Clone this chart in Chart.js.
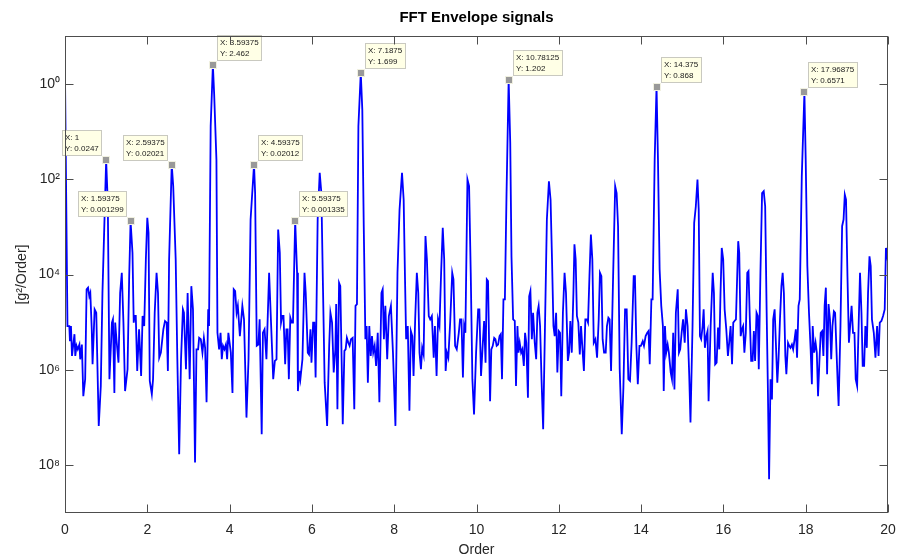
<!DOCTYPE html>
<html>
<head>
<meta charset="utf-8">
<title>FFT Envelope signals</title>
<script src="https://cdn.jsdelivr.net/npm/chart.js@4/dist/chart.umd.min.js"></script>
<style>
  html, body { margin: 0; padding: 0; background: #fff; }
  #chart { display: block; }
</style>
</head>
<body>
<canvas id="chart" width="899" height="560"></canvas>
<script>
/* ===== DATA ===== */
const ORDER = [
  0, 0.06, 0.105, 0.12, 0.145, 0.17, 0.23, 0.25, 0.28, 0.31, 0.35, 0.37, 0.41, 0.445, 0.49,
  0.525, 0.56, 0.59, 0.615, 0.65, 0.67, 0.72, 0.76, 0.82, 0.87, 0.91, 1.0, 1.04, 1.08, 1.14,
  1.165, 1.2, 1.22, 1.25, 1.3, 1.34, 1.38, 1.42, 1.46, 1.52, 1.56, 1.59375, 1.64, 1.67, 1.69,
  1.72, 1.755, 1.8, 1.85, 1.885, 1.925, 1.965, 2.0, 2.03, 2.06, 2.11, 2.14, 2.18, 2.225, 2.26,
  2.29, 2.33, 2.39, 2.43, 2.47, 2.5, 2.53, 2.59375, 2.63, 2.69, 2.73, 2.775, 2.82, 2.865, 2.89,
  2.94, 2.98, 3.03, 3.07, 3.11, 3.16, 3.195, 3.235, 3.26, 3.3, 3.34, 3.375, 3.405, 3.44, 3.48,
  3.5, 3.54, 3.59375, 3.625, 3.68, 3.705, 3.745, 3.78, 3.81, 3.84, 3.875, 3.91, 3.94, 3.97, 4.03,
  4.07, 4.1, 4.135, 4.17, 4.2, 4.25, 4.31, 4.35, 4.41, 4.46, 4.51, 4.59375, 4.62, 4.66, 4.7,
  4.73, 4.78, 4.81, 4.85, 4.895, 4.96, 5.06, 5.1, 5.14, 5.18, 5.22, 5.25, 5.28, 5.31, 5.35,
  5.38, 5.41, 5.44, 5.475, 5.51, 5.54, 5.59375, 5.64, 5.66, 5.695, 5.72, 5.77, 5.82, 5.85, 5.9,
  5.93, 5.965, 5.99, 6.03, 6.06, 6.09, 6.14, 6.19, 6.23, 6.27, 6.31, 6.37, 6.42, 6.45, 6.49,
  6.53, 6.57, 6.59, 6.62, 6.66, 6.69, 6.715, 6.75, 6.79, 6.82, 6.85, 6.885, 6.915, 6.95, 6.99,
  7.03, 7.06, 7.095, 7.13, 7.1875, 7.225, 7.26, 7.3, 7.33, 7.36, 7.395, 7.43, 7.46, 7.49, 7.525,
  7.56, 7.6, 7.64, 7.69, 7.72, 7.75, 7.785, 7.83, 7.87, 7.92, 7.97, 8.03, 8.08, 8.13, 8.19,
  8.23, 8.26, 8.29, 8.33, 8.37, 8.405, 8.44, 8.47, 8.51, 8.55, 8.585, 8.615, 8.65, 8.68, 8.715,
  8.76, 8.795, 8.84, 8.875, 8.915, 8.96, 8.99, 9.03, 9.065, 9.1, 9.14, 9.18, 9.215, 9.25, 9.28,
  9.315, 9.36, 9.41, 9.44, 9.48, 9.52, 9.57, 9.6, 9.635, 9.67, 9.7, 9.73, 9.78, 9.82, 9.86,
  9.9, 9.94, 9.99, 10.04, 10.07, 10.11, 10.15, 10.185, 10.22, 10.25, 10.28, 10.33, 10.36, 10.395, 10.43,
  10.46, 10.49, 10.525, 10.56, 10.59, 10.62, 10.655, 10.69, 10.73, 10.78125, 10.82, 10.85, 10.89, 10.93, 10.96,
  10.995, 11.02, 11.05, 11.085, 11.115, 11.15, 11.18, 11.21, 11.25, 11.28, 11.31, 11.345, 11.375, 11.415, 11.45,
  11.48, 11.51, 11.545, 11.58, 11.62, 11.66, 11.71, 11.76, 11.8, 11.835, 11.87, 11.9, 11.935, 11.965, 12.0,
  12.03, 12.06, 12.1, 12.14, 12.175, 12.22, 12.25, 12.28, 12.315, 12.355, 12.38, 12.41, 12.44, 12.475, 12.51,
  12.54, 12.57, 12.61, 12.645, 12.68, 12.71, 12.745, 12.78, 12.815, 12.85, 12.89, 12.93, 12.97, 13.0, 13.035,
  13.065, 13.1, 13.14, 13.17, 13.205, 13.235, 13.27, 13.32, 13.37, 13.405, 13.44, 13.48, 13.53, 13.57, 13.61,
  13.65, 13.69, 13.73, 13.77, 13.82, 13.85, 13.885, 13.92, 13.96, 13.995, 14.04, 14.07, 14.11, 14.15, 14.18,
  14.21, 14.25, 14.28, 14.33, 14.375, 14.41, 14.45, 14.49, 14.53, 14.55, 14.58, 14.61, 14.645, 14.675, 14.72,
  14.75, 14.78, 14.81, 14.845, 14.89, 14.92, 14.95, 14.985, 15.02, 15.06, 15.09, 15.13, 15.17, 15.2, 15.25,
  15.29, 15.33, 15.37, 15.4, 15.43, 15.46, 15.495, 15.52, 15.55, 15.585, 15.615, 15.64, 15.69, 15.74, 15.77,
  15.8, 15.835, 15.87, 15.9, 15.93, 15.96, 15.995, 16.03, 16.07, 16.11, 16.14, 16.175, 16.21, 16.24, 16.27,
  16.305, 16.335, 16.36, 16.385, 16.42, 16.45, 16.48, 16.51, 16.545, 16.58, 16.61, 16.64, 16.675, 16.71, 16.74,
  16.77, 16.805, 16.835, 16.86, 16.9, 16.94, 16.98, 17.015, 17.05, 17.08, 17.11, 17.145, 17.18, 17.21, 17.245,
  17.275, 17.31, 17.34, 17.375, 17.41, 17.44, 17.47, 17.505, 17.53, 17.57, 17.6, 17.63, 17.665, 17.695, 17.73,
  17.76, 17.79, 17.825, 17.855, 17.905, 17.96875, 18.0, 18.04, 18.08, 18.12, 18.15, 18.17, 18.205, 18.24, 18.27,
  18.3, 18.335, 18.365, 18.4, 18.43, 18.46, 18.49, 18.52, 18.555, 18.59, 18.62, 18.65, 18.685, 18.715, 18.75,
  18.78, 18.8, 18.845, 18.885, 18.92, 18.95, 18.98, 19.015, 19.05, 19.08, 19.115, 19.15, 19.185, 19.215, 19.25,
  19.29, 19.32, 19.355, 19.385, 19.42, 19.45, 19.485, 19.515, 19.55, 19.58, 19.61, 19.655, 19.695, 19.735, 19.77,
  19.8, 19.84, 19.88, 19.92, 19.95, 19.98, 20.0
];

const AMPLITUDE = [
  1.4, 8.3e-6, 8.3e-6, 4.0e-6, 8.3e-6, 1.96e-6, 5.6e-6, 1.96e-6, 3.2e-6, 2.7e-6, 3.4e-6, 1.67e-6, 3.4e-6, 2.8e-7, 6.4e-7,
  4.9e-5, 5.3e-5, 3.5e-5, 4.1e-5, 7.1e-6, 1.31e-6, 1.86e-5, 1.58e-5, 6.7e-8, 4.6e-7, 4.1e-5, 0.0247, 3.2e-3, 6.4e-7, 9.8e-6,
  1.15e-5, 3.3e-7, 9.8e-6, 4.4e-6, 1.42e-6, 4.1e-5, 1.09e-4, 9.8e-6, 3.6e-7, 1.03e-6, 9.2e-5, 0.001299, 2.85e-4, 9.8e-6, 1.35e-5,
  1.35e-5, 9.5e-7, 7.1e-6, 7.5e-7, 1.35e-5, 8.3e-6, 2.07e-4, 1.54e-3, 7.5e-4, 5.9e-7, 3.1e-7, 6.4e-7, 1.58e-5, 1.09e-4, 4.1e-5,
  1.8e-6, 2.3e-6, 7.1e-6, 1.06e-5, 9.8e-6, 9.5e-7, 2.07e-4, 0.02021, 7.1e-3, 2.07e-4, 1.67e-6, 1.7e-8, 1.67e-6, 1.86e-5, 1.58e-5,
  1.03e-6, 4.1e-5, 6.4e-7, 5.7e-5, 1.86e-5, 1.15e-8, 2.7e-6, 2.7e-6, 4.7e-6, 4.4e-6, 2.3e-6, 4.7e-6, 2.9e-6, 2.1e-7, 1.86e-5,
  8.3e-6, 0.128, 2.462, 0.6, 0.0256, 6.0e-6, 2.7e-6, 6.0e-6, 1.67e-6, 3.2e-6, 2.7e-6, 3.4e-6, 1.67e-6, 6.0e-6, 2.3e-6,
  3.3e-7, 4.9e-5, 4.5e-5, 1.58e-5, 2.2e-5, 5.1e-6, 2.2e-5, 1.15e-5, 1.0e-7, 1.67e-6, 1.42e-3, 0.02012, 5.1e-3, 3.2e-6, 3.4e-6,
  1.15e-5, 4.5e-8, 6.0e-6, 7.1e-6, 1.67e-6, 1.09e-4, 6.4e-7, 1.54e-6, 1.67e-6, 8.8e-4, 2.85e-4, 9.8e-6, 1.35e-5, 1.35e-5, 1.31e-6,
  7.1e-6, 7.1e-6, 6.4e-7, 1.24e-5, 9.8e-6, 9.8e-6, 0.001335, 1.09e-4, 3.6e-7, 9.5e-7, 6.4e-7, 1.67e-6, 1.09e-4, 4.1e-5, 2.3e-6,
  2.1e-6, 7.1e-6, 1.42e-6, 9.8e-6, 9.8e-6, 6.9e-7, 1.42e-3, 0.0135, 5.1e-3, 4.9e-5, 5.4e-7, 6.7e-8, 3.2e-6, 1.58e-5, 9.8e-6,
  8.8e-7, 2.7e-6, 2.4e-5, 1.5e-7, 6.7e-5, 5.7e-5, 3.7e-6, 7.3e-8, 2.5e-6, 2.7e-6, 4.7e-6, 3.7e-6, 3.2e-6, 4.4e-6, 4.7e-6,
  1.5e-7, 2.2e-5, 2.4e-5, 0.128, 1.699, 0.286, 1.03e-3, 4.4e-6, 8.3e-6, 5.4e-7, 8.3e-6, 1.96e-6, 5.1e-6, 2.3e-6, 3.2e-6,
  1.21e-6, 6.0e-6, 2.1e-7, 4.1e-5, 4.9e-5, 4.4e-6, 2.2e-5, 1.67e-6, 1.35e-5, 2.2e-5, 2.3e-6, 6.7e-8, 1.09e-4, 2.3e-3, 0.0135,
  3.7e-3, 1.09e-4, 4.4e-6, 8.3e-6, 1.4e-7, 6.5e-6, 5.1e-6, 7.5e-7, 1.15e-5, 1.09e-4, 4.1e-5, 2.3e-6, 1.03e-6, 2.9e-6, 2.1e-6,
  6.4e-4, 2.07e-4, 1.35e-5, 1.15e-5, 1.35e-5, 1.8e-6, 8.3e-6, 7.5e-7, 1.15e-5, 8.3e-6, 1.09e-4, 9.5e-4, 2.07e-4, 9.5e-7, 2.3e-6,
  1.8e-6, 9.8e-6, 1.09e-4, 7.9e-5, 3.2e-6, 2.7e-6, 6.0e-6, 1.15e-5, 1.15e-5, 6.9e-7, 8.3e-6, 6.0e-6, 9.8e-3, 7.1e-3, 1.09e-4,
  6.4e-7, 1.17e-7, 2.3e-6, 1.86e-5, 1.86e-5, 7.5e-7, 3.2e-6, 1.06e-5, 1.42e-6, 7.9e-5, 7.3e-5, 2.2e-7, 2.7e-6, 3.2e-6, 4.7e-6,
  4.4e-6, 3.2e-6, 3.4e-6, 5.1e-6, 5.6e-6, 6.4e-7, 3.0e-5, 3.0e-5, 5.1e-3, 1.202, 0.057, 2.4e-4, 1.15e-5, 1.06e-5, 4.6e-7,
  8.3e-6, 2.3e-6, 3.7e-6, 2.3e-6, 2.7e-6, 1.21e-6, 6.0e-6, 3.7e-6, 2.6e-7, 3.5e-5, 4.5e-5, 4.4e-6, 1.58e-5, 3.7e-6, 1.67e-6,
  1.58e-5, 2.2e-5, 8.3e-6, 6.4e-7, 5.7e-8, 5.1e-6, 1.42e-3, 9.0e-3, 3.7e-3, 2.07e-4, 8.3e-6, 5.1e-6, 1.58e-5, 8.8e-7, 6.5e-6,
  6.0e-6, 2.8e-7, 1.58e-5, 1.09e-4, 4.1e-5, 1.54e-6, 2.3e-6, 1.06e-5, 2.3e-6, 4.1e-5, 4.3e-4, 2.07e-4, 1.35e-5, 9.8e-6, 2.1e-6,
  8.3e-6, 3.2e-6, 9.5e-7, 1.15e-5, 1.15e-5, 9.8e-6, 9.2e-5, 6.9e-4, 2.07e-4, 3.7e-6, 4.4e-6, 1.8e-6, 1.15e-5, 1.09e-4, 9.2e-5,
  4.4e-6, 2.3e-6, 2.3e-6, 8.3e-6, 1.24e-5, 1.15e-5, 9.5e-7, 9.2e-5, 7.1e-3, 5.1e-3, 1.03e-3, 1.03e-6, 4.5e-8, 4.3e-7, 1.86e-5,
  1.86e-5, 6.4e-7, 5.9e-7, 3.7e-6, 9.2e-5, 9.2e-5, 3.2e-6, 5.0e-7, 3.2e-6, 3.2e-6, 4.0e-6, 3.2e-6, 5.1e-6, 6.0e-6, 6.5e-6,
  1.31e-6, 3.0e-5, 3.0e-5, 0.0256, 0.868, 0.0256, 1.28e-4, 2.2e-5, 8.3e-6, 3.6e-7, 8.3e-6, 2.3e-6, 3.4e-6, 2.3e-6, 8.8e-7,
  6.4e-7, 6.0e-6, 3.9e-7, 1.58e-5, 4.9e-5, 2.3e-6, 2.7e-6, 6.0e-6, 1.15e-5, 3.7e-6, 1.86e-5, 8.3e-6, 7.5e-7, 7.9e-8, 8.3e-6,
  1.21e-3, 2.7e-3, 9.8e-3, 2.3e-3, 5.1e-6, 4.4e-6, 8.3e-6, 1.86e-5, 2.9e-6, 5.1e-6, 6.5e-6, 2.2e-7, 8.3e-6, 1.09e-4, 4.1e-5,
  1.31e-6, 1.42e-6, 7.7e-6, 2.7e-6, 4.1e-5, 3.6e-4, 2.07e-4, 1.86e-5, 7.1e-6, 1.96e-6, 3.7e-6, 8.3e-6, 1.31e-6, 9.8e-6, 1.06e-5,
  1.15e-5, 9.2e-5, 5.0e-4, 2.85e-4, 5.1e-6, 7.1e-6, 8.3e-6, 2.3e-6, 6.0e-6, 1.09e-4, 1.18e-4, 1.35e-5, 1.54e-6, 1.54e-6, 6.5e-6,
  1.54e-6, 1.58e-5, 1.35e-5, 1.03e-6, 1.09e-4, 5.1e-3, 5.6e-3, 2.7e-3, 1.86e-5, 4.6e-7, 5.1e-9, 6.4e-7, 2.4e-7, 1.15e-5, 1.86e-5,
  3.7e-6, 5.4e-7, 1.67e-6, 1.15e-5, 5.7e-5, 1.09e-4, 4.1e-5, 1.96e-6, 8.1e-7, 3.7e-6, 3.2e-6, 2.9e-6, 3.4e-6, 2.7e-6, 4.4e-6,
  7.1e-6, 1.8e-6, 2.2e-5, 3.0e-5, 0.0115, 0.6571, 0.0256, 1.5e-4, 1.58e-5, 2.7e-6, 5.0e-7, 8.3e-6, 2.3e-6, 3.7e-6, 2.3e-6,
  2.8e-7, 1.67e-6, 6.0e-6, 6.5e-6, 1.96e-6, 2.2e-5, 5.3e-5, 8.1e-7, 2.4e-5, 1.15e-5, 1.67e-6, 8.3e-6, 1.7e-5, 1.58e-5, 2.3e-6,
  4.6e-7, 1.76e-7, 8.3e-6, 1.03e-3, 1.42e-3, 4.7e-3, 3.7e-3, 9.2e-5, 3.7e-6, 8.3e-6, 2.2e-5, 6.0e-6, 6.0e-6, 6.4e-7, 4.6e-7,
  1.15e-5, 1.09e-4, 1.58e-5, 1.21e-6, 1.21e-6, 8.3e-6, 2.9e-6, 4.1e-5, 2.4e-4, 1.5e-4, 1.15e-5, 6.0e-6, 1.8e-6, 8.3e-6, 1.96e-6,
  9.8e-6, 1.06e-5, 1.35e-5, 1.86e-5, 3.6e-4, 2.4e-4, 4.0e-4
];

// data tips shown on the plot
const TIP_X = [1, 1.59375, 2.59375, 3.59375, 4.59375, 5.59375, 7.1875, 10.78125, 14.375, 17.96875];
const TIP_Y = [0.0247, 0.001299, 0.02021, 2.462, 0.02012, 0.001335, 1.699, 1.202, 0.868, 0.6571];

const X_TICKS = [0, 2, 4, 6, 8, 10, 12, 14, 16, 18, 20];
const Y_TICKS = [1e-8, 1e-6, 1e-4, 1e-2, 1];
const Y_TICK_LABELS = ["10\u2078", "10\u2076", "10\u2074", "10\u00B2", "10\u2070"];
/* ============================================== */

const FONT = '"Liberation Sans", Arial, Helvetica, sans-serif';
const INK = "#262626";

// MATLAB-like box, inward ticks, title and data tips
const matlabAxes = {
  id: "matlabAxes",
  afterDraw(chart) {
    const { ctx, chartArea: a, scales } = chart;
    const x = scales.x, y = scales.y;
    ctx.save();

    // data tips
    ctx.font = "8px " + FONT;
    ctx.textBaseline = "middle";
    ctx.textAlign = "left";
    TIP_X.forEach((tx, i) => {
      const mx = x.getPixelForValue(tx);
      const my = y.getPixelForValue(TIP_Y[i]);
      const l1 = "X: " + tx, l2 = "Y: " + TIP_Y[i];
      const w = Math.ceil(Math.max(ctx.measureText(l1).width, ctx.measureText(l2).width)) + 6;
      const h = 26;
      const bx = i < 3 ? Math.round(mx - 4 - w) : Math.round(mx + 4);
      const by = Math.round(my - 4 - h);
      ctx.fillStyle = "#ffffe6";
      ctx.fillRect(bx, by, w, h);
      ctx.strokeStyle = "#c9c9c0";
      ctx.lineWidth = 1;
      ctx.strokeRect(bx + 0.5, by + 0.5, w - 1, h - 1);
      ctx.fillStyle = "#1a1a1a";
      ctx.fillText(l1, bx + 3, by + 8);
      ctx.fillText(l2, bx + 3, by + 19);
      // marker
      ctx.fillStyle = "#999999";
      ctx.fillRect(Math.round(mx) - 3, Math.round(my) - 3, 6, 6);
      ctx.strokeStyle = "#f0f0e0";
      ctx.strokeRect(Math.round(mx) - 3.5, Math.round(my) - 3.5, 7, 7);
    });

    // axes box
    ctx.strokeStyle = "#4d4d4d";
    ctx.lineWidth = 1;
    const L = Math.round(a.left) + 0.5, R = Math.round(a.right) - 0.5;
    const T = Math.round(a.top) + 0.5, B = Math.round(a.bottom) - 0.5;
    ctx.strokeRect(L, T, R - L, B - T);

    // inward ticks
    const len = 8;
    ctx.beginPath();
    x.ticks.forEach((t) => {
      const px = Math.round(x.getPixelForValue(t.value)) + 0.5;
      ctx.moveTo(px, B); ctx.lineTo(px, B - len);
      ctx.moveTo(px, T); ctx.lineTo(px, T + len);
    });
    y.ticks.forEach((t) => {
      const py = Math.round(y.getPixelForValue(t.value)) + 0.5;
      ctx.moveTo(L, py); ctx.lineTo(L + len, py);
      ctx.moveTo(R, py); ctx.lineTo(R - len, py);
    });
    ctx.stroke();

    // title centred over the axes
    ctx.fillStyle = "#000";
    ctx.font = "bold 15px " + FONT;
    ctx.textAlign = "center";
    ctx.textBaseline = "middle";
    ctx.fillText("FFT Envelope signals", (a.left + a.right) / 2, 18);
    ctx.restore();
  }
};

new Chart(document.getElementById("chart"), {
  type: "line",
  data: {
    datasets: [
      {
        label: "FFT envelope",
        data: ORDER.map((o, i) => ({ x: o, y: AMPLITUDE[i] })),
        borderColor: "#0000ff",
        borderWidth: 1.8,
        pointRadius: 0,
        tension: 0,
        fill: false
      }
    ]
  },
  options: {
    responsive: false,
    animation: false,
    devicePixelRatio: 1,
    layout: { padding: { top: 36, right: 11, left: 0, bottom: 0 } },
    plugins: { legend: { display: false }, title: { display: false }, tooltip: { enabled: false } },
    scales: {
      x: {
        type: "linear",
        min: 0,
        max: 20,
        afterBuildTicks: (s) => { s.ticks = X_TICKS.map((v) => ({ value: v })); },
        afterFit: (s) => { s.height = 47; s.paddingRight = 0; s.paddingLeft = 0; },
        grid: { display: false, drawTicks: false },
        border: { display: false },
        ticks: { padding: 9, color: INK, font: { family: FONT, size: 14 }, maxRotation: 0 },
        title: { display: true, text: "Order", color: INK, font: { family: FONT, size: 14 }, padding: { top: 0, bottom: 1 } }
      },
      y: {
        type: "logarithmic",
        min: 1e-9,
        max: 10,
        afterBuildTicks: (s) => { s.ticks = Y_TICKS.map((v) => ({ value: v })); },
        afterFit: (s) => { s.width = 65; s.paddingTop = 0; s.paddingBottom = 0; },
        grid: { display: false, drawTicks: false },
        border: { display: false },
        ticks: {
          padding: 5,
          color: INK,
          font: { family: FONT, size: 14 },
          callback: (v) => Y_TICK_LABELS[Y_TICKS.indexOf(v)]
        },
        title: { display: true, text: "[g\u00B2/Order]", color: INK, font: { family: FONT, size: 14 }, padding: { top: 14, bottom: 0 } }
      }
    }
  },
  plugins: [matlabAxes]
});
</script>
</body>
</html>
